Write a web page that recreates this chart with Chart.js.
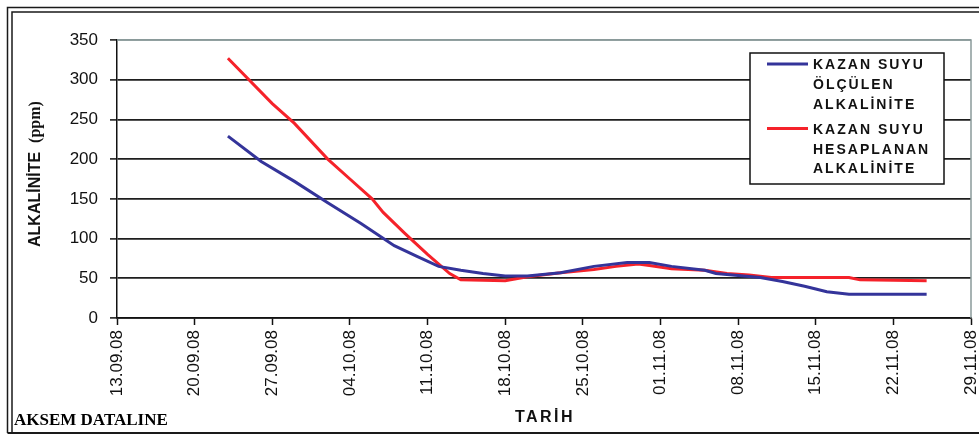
<!DOCTYPE html>
<html>
<head>
<meta charset="utf-8">
<script src="https://cdn.jsdelivr.net/npm/chart.js@4"></script>
<style>
  body { margin: 0; background: #fff; }
  canvas { display: block; }
</style>
</head>
<body>
<canvas id="chart" width="979" height="437"></canvas>
<script>
// days counted from 13.09.08
const startDate = new Date(2008, 8, 13);
const dayMin = 0;
const dayMax = 77;
const dayStep = 7;
const yTicks = [0, 50, 100, 150, 200, 250, 300, 350];

const olculenLabel = ['KAZAN SUYU', 'ÖLÇÜLEN', 'ALKALİNİTE'];
const olculenDays = [10, 13, 16, 19, 22, 25, 27, 29, 31, 33, 35, 37, 40, 43, 46, 48, 50, 53, 54, 58, 60, 62, 64, 66, 73];
const olculenValues = [229, 197, 172, 145, 119, 91, 78, 65, 60, 56, 53, 53, 57, 65, 70, 70, 65, 60, 56, 51, 46, 40, 33, 30, 30];

const hesaplananLabel = ['KAZAN SUYU', 'HESAPLANAN', 'ALKALİNİTE'];
const hesaplananDays = [10, 14, 16, 19, 21, 23, 24, 26, 28, 30, 31, 35, 37, 40, 43, 45, 47, 48, 50, 53, 55, 57, 59, 66, 67, 73];
const hesaplananValues = [327, 270, 245, 200, 175, 150, 133, 106, 80, 56, 48, 47, 52, 57, 61, 65, 68, 66, 62, 60, 56, 54, 51, 51, 48, 47];

function toPoints(days, values) {
  return days.map((d, i) => ({ x: d, y: values[i] }));
}

function formatDay(d) {
  const dt = new Date(startDate);
  dt.setDate(dt.getDate() + d);
  const dd = String(dt.getDate()).padStart(2, '0');
  const mm = String(dt.getMonth() + 1).padStart(2, '0');
  const yy = String(dt.getFullYear()).slice(2);
  return dd + '.' + mm + '.' + yy;
}

// frame, plot border, legend, titles
const decorPlugin = {
  id: 'decor',
  beforeDraw(chart) {
    const ctx = chart.ctx;
    ctx.save();
    ctx.fillStyle = '#fff';
    ctx.fillRect(0, 0, chart.width, chart.height);
    ctx.restore();
  },
  afterDraw(chart) {
    const ctx = chart.ctx;
    const a = chart.chartArea;
    ctx.save();

    // outer double frame
    ctx.strokeStyle = '#1a1a1a';
    ctx.lineWidth = 1.5;
    ctx.beginPath();
    ctx.moveTo(979, 7.5); ctx.lineTo(7.5, 7.5); ctx.lineTo(7.5, 433);
    ctx.moveTo(979, 12); ctx.lineTo(12, 12); ctx.lineTo(12, 433);
    ctx.stroke();
    ctx.lineWidth = 2;
    ctx.beginPath();
    ctx.moveTo(7.5, 433); ctx.lineTo(979, 433);
    ctx.stroke();

    // plot area border top / right
    ctx.strokeStyle = '#8a9a9a';
    ctx.lineWidth = 1.5;
    ctx.beginPath();
    ctx.moveTo(a.left, a.top); ctx.lineTo(a.right, a.top); ctx.lineTo(a.right, a.bottom);
    ctx.stroke();

    // legend
    const lx = 750, ly = 53, lw = 194, lh = 131;
    ctx.fillStyle = '#fff';
    ctx.fillRect(lx, ly, lw, lh);
    ctx.strokeStyle = '#111';
    ctx.lineWidth = 1.5;
    ctx.strokeRect(lx, ly, lw, lh);
    ctx.font = 'bold 14px Arial, "Liberation Sans", sans-serif';
    ctx.letterSpacing = '2px';
    ctx.textBaseline = 'middle';
    ctx.textAlign = 'left';
    const entries = [
      { ds: chart.data.datasets[0], label: olculenLabel, y: 65.5 },
      { ds: chart.data.datasets[1], label: hesaplananLabel, y: 130 }
    ];
    entries.forEach(e => {
      ctx.strokeStyle = e.ds.borderColor;
      ctx.lineWidth = 3;
      ctx.beginPath();
      ctx.moveTo(767, e.y - 1.5); ctx.lineTo(808, e.y - 1.5);
      ctx.stroke();
      ctx.fillStyle = '#111';
      e.label.forEach((t, i) => ctx.fillText(t, 813, e.y + i * 19.7));
    });

    // x title
    ctx.font = 'bold 16px Arial, "Liberation Sans", sans-serif';
    ctx.letterSpacing = '2.5px';
    ctx.textAlign = 'center';
    ctx.fillText('TARİH', (a.left + a.right) / 2 + 1, 418);

    // y title
    ctx.save();
    ctx.translate(36, 247);
    ctx.rotate(-Math.PI / 2);
    ctx.textAlign = 'left';
    ctx.letterSpacing = '0px';
    ctx.font = 'bold 16px Arial, "Liberation Sans", sans-serif';
    ctx.fillText('ALKALİNİTE', 0, 0);
    const w = ctx.measureText('ALKALİNİTE').width;
    ctx.font = 'bold 16px "Times New Roman", "Liberation Serif", serif';
    ctx.fillText('(ppm)', w + 9, 0);
    ctx.restore();

    // watermark
    ctx.letterSpacing = '0px';
    ctx.textAlign = 'left';
    ctx.font = 'bold 17px "Times New Roman", "Liberation Serif", serif';
    ctx.fillStyle = '#000';
    ctx.fillText('AKSEM DATALINE', 14, 421);

    ctx.restore();
  }
};

new Chart(document.getElementById('chart'), {
  type: 'line',
  data: {
    datasets: [
      {
        label: olculenLabel.join(' '),
        data: toPoints(olculenDays, olculenValues),
        borderColor: '#34349a',
        borderWidth: 3,
        pointRadius: 0,
        tension: 0,
        fill: false
      },
      {
        label: hesaplananLabel.join(' '),
        data: toPoints(hesaplananDays, hesaplananValues),
        borderColor: '#f5222a',
        borderWidth: 3,
        pointRadius: 0,
        tension: 0,
        fill: false
      }
    ]
  },
  options: {
    responsive: false,
    animation: false,
    layout: { padding: { top: 40, right: 8, bottom: 0, left: 0 } },
    plugins: {
      legend: { display: false },
      tooltip: { enabled: false }
    },
    scales: {
      x: {
        type: 'linear',
        min: dayMin,
        max: dayMax,
        border: { color: '#111', width: 1.5 },
        grid: { drawOnChartArea: false, drawTicks: true, tickLength: 7, tickColor: '#111', tickWidth: 1.5 },
        ticks: {
          stepSize: dayStep,
          autoSkip: false,
          minRotation: 90,
          maxRotation: 90,
          padding: 5,
          color: '#111',
          font: { family: 'Arial, "Liberation Sans", sans-serif', size: 17 },
          callback: v => formatDay(v)
        },
        afterFit(scale) {
          scale.height = 119;
          scale.paddingLeft = 0;
          scale.paddingRight = 0;
        }
      },
      y: {
        min: yTicks[0],
        max: yTicks[yTicks.length - 1],
        border: { color: '#111', width: 1.5 },
        grid: {
          color: c => (c.tick && c.tick.value === 350) ? '#8a9a9a' : (c.tick && c.tick.value === 0 ? '#111' : '#1e1e1e'),
          lineWidth: 1.8,
          drawTicks: true,
          tickLength: 7,
          tickColor: '#111',
          tickWidth: 1.5
        },
        afterBuildTicks(scale) {
          scale.ticks = yTicks.map(v => ({ value: v }));
        },
        ticks: {
          padding: 12,
          color: '#111',
          font: { family: 'Arial, "Liberation Sans", sans-serif', size: 17 }
        },
        afterFit(scale) {
          scale.width = 117;
          scale.paddingTop = 0;
          scale.paddingBottom = 0;
        }
      }
    }
  },
  plugins: [decorPlugin]
});
</script>
</body>
</html>
